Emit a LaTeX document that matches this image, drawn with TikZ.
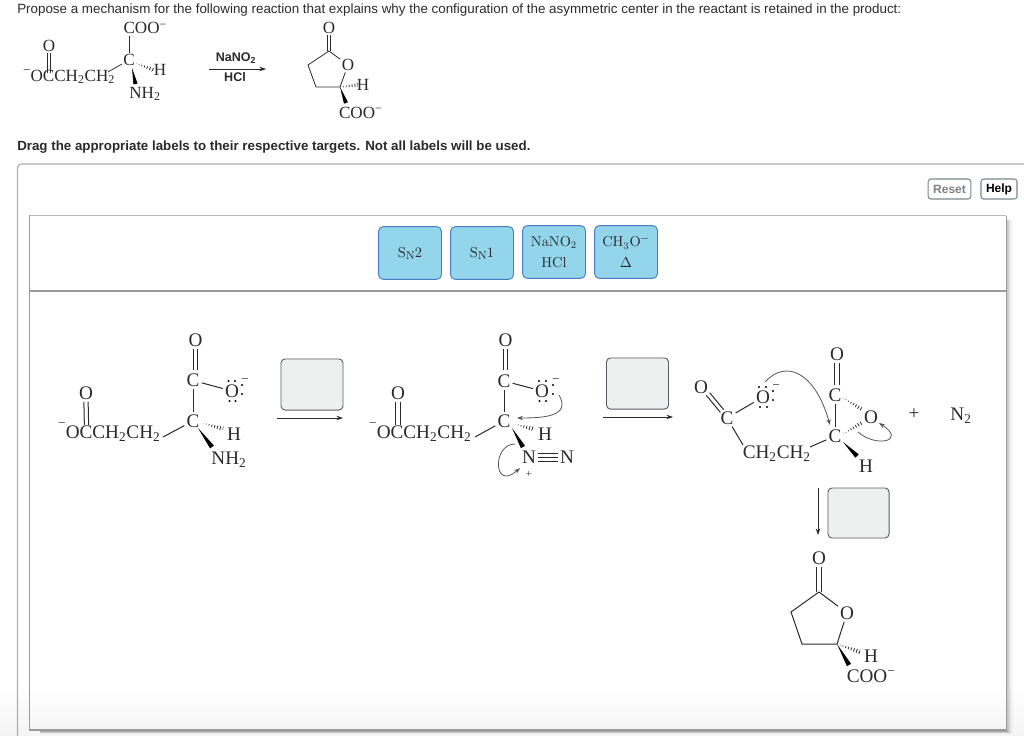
\documentclass[tikz,border=0pt]{standalone}
\usepackage{fontspec}
\setmainfont{Liberation Serif}
\newfontfamily\uifont{Liberation Sans}
\newfontfamily\lmfont{Latin Modern Roman}
\usetikzlibrary{arrows.meta,calc}
\definecolor{ink}{HTML}{2A2A2A}
\definecolor{panel}{HTML}{9A9A9A}
\definecolor{boxfill}{HTML}{EEF0F0}
\definecolor{boxline}{HTML}{555A66}
\definecolor{labelfill}{HTML}{93D5EA}
\definecolor{labelline}{HTML}{4A7CC4}
\definecolor{curly}{HTML}{555555}
\definecolor{btnline}{HTML}{7A8A90}
\tikzset{
 atom/.style={inner sep=1.5pt,font=\fontsize{14.4}{15}\selectfont,text=ink},
 smallatom/.style={inner sep=1pt,font=\fontsize{12.8}{13}\selectfont,text=ink},
 signm/.style={inner sep=0pt,font=\fontsize{10}{10}\selectfont,text=ink},
 signp/.style={inner sep=0pt,font=\fontsize{8}{8}\selectfont,text=ink},
 bond/.style={draw=ink,line width=0.75pt},
 sbond/.style={draw=ink,line width=0.6pt},
 hash/.style={draw=ink,line width=5pt,dash pattern=on 0.6pt off 1.6pt},
 rxn/.style={draw=ink,line width=0.6pt,-{Stealth[length=5pt,width=3.4pt]}},
 curlyarrow/.style={draw=curly,line width=0.6pt,-{Stealth[length=4.5pt,width=3.2pt]}},
 slotbox/.style={draw=boxline,fill=boxfill,rounded corners=3pt,line width=0.7pt},
 labelbox/.style={draw=labelline,fill=labelfill,rounded corners=3.5pt,line width=0.7pt,inner sep=0pt,minimum width=47.2pt,minimum height=39.5pt,font=\lmfont\fontsize{10.8}{15.2}\selectfont,text=ink,align=center},
 ui/.style={inner sep=0pt,anchor=base west,font=\uifont\fontsize{10.04}{12}\selectfont,text=ink},
 reag/.style={inner sep=0pt,font=\uifont\bfseries\fontsize{9.4}{11}\selectfont,text=ink},
 btn/.style={draw=btnline,fill=white,rounded corners=2pt,line width=0.8pt,inner sep=0pt,minimum height=15pt,font=\uifont\bfseries\fontsize{9}{11}\selectfont},
}
\newcommand{\chsub}[1]{\textsubscript{#1}}
\newcommand{\lpair}[4]{\fill[black] (#1,#2) circle (0.85pt) (#3,#4) circle (0.85pt);}
\newcommand{\hashb}[3][1.8pt]{\begin{scope}\clip (#2) -- ($(#3)!#1!90:(#2)$) -- ($(#3)!#1!-90:(#2)$) -- cycle;\draw[hash] (#2) -- (#3);\end{scope}}
\newcommand{\wedgeb}[3][1.8pt]{\fill[black] (#2) -- ($(#3)!#1!90:(#2)$) -- ($(#3)!#1!-90:(#2)$) -- cycle;}
\newcommand{\dblbond}[3][1.6pt]{\draw[bond] ($(#2)!#1!90:(#3)$) -- ($(#3)!#1!-90:(#2)$); \draw[bond] ($(#2)!#1!-90:(#3)$) -- ($(#3)!#1!90:(#2)$);}
\newcommand{\sdblbond}[3][1.4pt]{\draw[sbond] ($(#2)!#1!90:(#3)$) -- ($(#3)!#1!-90:(#2)$); \draw[sbond] ($(#2)!#1!-90:(#3)$) -- ($(#3)!#1!90:(#2)$);}
\begin{document}
\begin{tikzpicture}[x=0.75pt,y=-0.75pt]
\useasboundingbox (0,0) rectangle (1024,735);
\shade[top color=white,bottom color=black!4] (0,685) rectangle (1024,735);
% --- text
\node[ui] (title) at (17,14) {Propose a mechanism for the following reaction that explains why the configuration of the asymmetric center in the reactant is retained in the product:};
\node[ui,font=\uifont\bfseries\fontsize{10}{12}\selectfont] (drag) at (17,150) {Drag the appropriate labels to their respective targets. Not all labels will be used.};
% --- panel frames
\draw[draw=panel!80,line width=0.9pt,rounded corners=3pt] (1030,164) -- (17.5,164) -- (17.5,745);
\foreach \o/\w in {1/0.12,2/0.1,3/0.08,4/0.06,5/0.04}
  \draw[draw=black,opacity=\w,line width=1.5pt] (1006+\o*1.1,220) -- (1006+\o*1.1,730+\o*0.6) -- (40,730+\o*0.6);
\draw[draw=panel!70,line width=0.8pt] (29.5,215.5) -- (1006,215.5);
\draw[draw=panel,line width=1.2pt] (29.5,215) -- (29.5,730) -- (1006.5,730) -- (1006.5,215.5);
\draw[draw=panel,line width=1pt] (29.5,291) -- (1006,291);
\node[btn,text=gray,minimum width=32pt] (reset) at (949.5,189) {Reset};
\node[btn,text=black,minimum width=27pt] (help) at (999,189) {Help};
% --- label tiles
\node[labelbox] (l1) at (410,253) {S\raisebox{-0.3ex}{\fontsize{8.5}{9}\selectfont N}2};
\node[labelbox] (l2) at (482,253) {S\raisebox{-0.3ex}{\fontsize{8.5}{9}\selectfont N}1};
\node[labelbox] (l3) at (554,252) {NaNO\chsub{2}\\HCl};
\node[labelbox] (l4) at (626,252) {CH\chsub{3}O\textsuperscript{−}\\$\Delta$};
% --- slots
\node[slotbox,inner sep=0pt,minimum width=46.5pt,minimum height=38.3pt] (s1) at (312,384.5) {};
\node[slotbox,inner sep=0pt,minimum width=46.5pt,minimum height=38.3pt] (s2) at (637.5,383.5) {};
\node[slotbox,inner sep=0pt,minimum width=45.8pt,minimum height=37.5pt] (s3) at (858.5,513) {};
% --- reaction arrows
\coordinate (a1s) at (277,418); \coordinate (a1e) at (343,418);
\draw[rxn] (a1s) -- (a1e);
\coordinate (a2s) at (603,417); \coordinate (a2e) at (673,417);
\draw[rxn] (a2s) -- (a2e);
\coordinate (a3s) at (818,488); \coordinate (a3e) at (818,535);
\draw[rxn] (a3s) -- (a3e);
\coordinate (a0s) at (209,69); \coordinate (a0e) at (266,69);
\draw[rxn,line width=0.5pt] (a0s) -- (a0e);
% --- header reactant
\node[smallatom] (hO) at (49,46) {O};
\node[signm] (hm) at (27,72) {−};
\node[smallatom,anchor=base west] (hOC) at (29,81.5) {OCCH\chsub{2}CH\chsub{2}};
\coordinate (hOCc) at (49,73);
\sdblbond{hO.south}{hOCc}
\node[smallatom,anchor=base west] (hCOO) at (122,34) {COO\textsuperscript{−}};
\coordinate (hCOOb) at (129,36);
\node[smallatom] (hC) at (129,60) {C};
\node[smallatom] (hH) at (160,70) {H};
\node[smallatom] (hN) at (145,94) {NH\chsub{2}};
\coordinate (hCH) at (108,72);
\coordinate (hw1) at (132,68); \coordinate (hw2) at (135.5,84);
\coordinate (hh1) at (136,63); \coordinate (hh2) at (153,70);
\draw[sbond] (hCOOb) -- (hC);
\draw[sbond] (hCH) -- (hC);
\hashb[1.6pt]{hh1}{hh2}
\wedgeb[1.6pt]{hw1}{hw2}
\node[reag] (hna) at (236,58) {NaNO\chsub{2}};
\node[reag] (hhcl) at (235,77) {HCl};
% header product
\node[smallatom] (pO1) at (329,28) {O};
\coordinate (pC1) at (329,51);
\node[smallatom] (pO2) at (348,65) {O};
\coordinate (pC2) at (308,65);
\coordinate (pC3) at (316,87);
\coordinate (pC4) at (340,87);
\sdblbond{pO1.south}{pC1}
\draw[sbond] (pC1) -- (pO2);
\draw[sbond] (pO2) -- (pC4);
\draw[sbond] (pC4) -- (pC3) -- (pC2) -- (pC1);
\node[smallatom] (pH) at (363,85) {H};
\node[smallatom,anchor=base west] (pCOO) at (337.5,118) {COO\textsuperscript{−}};
\coordinate (phe) at (358,85);
\coordinate (pwe) at (346,103);
\hashb[1.6pt]{pC4}{phe}
\wedgeb[1.6pt]{pC4}{pwe}
% --- structure 1
\node[atom] (a1O) at (195.5,340) {O};
\node[atom] (a1C) at (193,380.5) {C};
\node[atom] (a1Om) at (232,391) {O};
\node[atom] (a1Cc) at (193,421) {C};
\node[atom] (a1H) at (234,434) {H};
\node[atom] (a1N) at (229,460) {NH\chsub{2}};
\node[atom] (a1Ol) at (86,393) {O};
\node[signm] (a1mn) at (62,425) {−};
\node[atom,anchor=base west] (a1OC) at (63.5,438.5) {OCCH\chsub{2}CH\chsub{2}};
\coordinate (a1OCc) at (86.5,425);
\coordinate (a1CH) at (163,437);
\coordinate (a1wh) at (223,429);
\coordinate (a1wn) at (212,447);
\coordinate (a1ws) at (198,428);
\coordinate (a1hs) at (203,423);
\coordinate (a1Oc) at (195.5,370);
\dblbond{a1O.south}{a1Oc}
\dblbond{a1Ol.south}{a1OCc}
\draw[bond] (a1C) -- (a1Om);
\draw[bond] (a1C) -- (a1Cc);
\draw[bond] (a1CH) -- (a1Cc);
\hashb{a1hs}{a1wh}
\wedgeb{a1ws}{a1wn}
\lpair{228.5}{381}{235}{381}
\lpair{229.5}{401}{235.5}{401}
\lpair{242}{385}{242}{394}
\node[signm] (a1mo) at (245,381) {−};
% --- structure 2
\node[atom] (b1O) at (505.5,340) {O};
\node[atom] (b1C) at (504,381) {C};
\node[atom] (b1Om) at (542,391) {O};
\node[atom] (b1Cc) at (504,421) {C};
\node[atom] (b1H) at (545,434) {H};
\node[atom] (b1N1) at (529,457.5) {N};
\node[atom] (b1N2) at (567,457.5) {N};
\node[signp] (b1pl) at (529,474.5) {+};
\node[atom] (b1Ol) at (398,393) {O};
\node[signm] (b1mn) at (373,425) {−};
\node[atom,anchor=base west] (b1OC) at (374.5,438.5) {OCCH\chsub{2}CH\chsub{2}};
\coordinate (b1OCc) at (398,425);
\coordinate (b1CH) at (475,437);
\coordinate (b1Oc) at (505.5,370);
\coordinate (b1hs) at (515,424);
\coordinate (b1he) at (533,429);
\coordinate (b1ws) at (512,428);
\coordinate (b1we) at (523,447);
\dblbond{b1O.south}{b1Oc}
\dblbond{b1Ol.south}{b1OCc}
\draw[bond] (b1C) -- (b1Om);
\draw[bond] (b1C) -- (b1Cc);
\draw[bond] (b1CH) -- (b1Cc);
\hashb{b1hs}{b1he}
\wedgeb{b1ws}{b1we}
\dblbond[3pt]{b1N1.east}{b1N2.west}
\draw[draw=ink,line width=0.8pt] (b1N1) -- (b1N2);
\lpair{539}{381}{546}{381}
\lpair{539.5}{401}{546}{401}
\lpair{553}{385}{553}{394}
\node[signm] (b1mo) at (556,381) {−};
\coordinate (bc1s) at (559,395); \coordinate (bc1e) at (517,418);
\draw[curlyarrow] (bc1s) .. controls (571,416) and (545,418) .. (bc1e);
\coordinate (bc2s) at (515,444); \coordinate (bc2e) at (520,468);
\draw[curlyarrow] (bc2s) .. controls (492,444) and (493,492) .. (bc2e);
% --- structure 3
\node[atom] (c1O) at (837,354) {O};
\node[atom] (c1C) at (835,395) {C};
\node[atom] (c1Cc) at (835,436) {C};
\node[atom] (c1Or) at (871,417) {O};
\node[atom] (c1H) at (866,466) {H};
\node[atom,anchor=base west] (c1CH) at (740.5,458.5) {CH\chsub{2}CH\chsub{2}};
\node[atom] (c1Cl) at (727,418) {C};
\node[atom] (c1Ot) at (701,387) {O};
\node[atom] (c1Om) at (763,397) {O};
\node[atom] (c1plus) at (914,414) {+};
\node[atom] (c1N2) at (961,416) {N\chsub{2}};
\coordinate (c1Oc) at (837,385);
\coordinate (c1r1) at (810,447);
\coordinate (c1l1) at (743,445);
\coordinate (c1Otb) at (708,394);
\coordinate (c1Clt) at (722,411);
\coordinate (c1h1s) at (843,398); \coordinate (c1h1e) at (863,410);
\coordinate (c1h2s) at (843,434); \coordinate (c1h2e) at (863,422);
\coordinate (c1ws) at (843,442); \coordinate (c1we) at (857,456);
\dblbond{c1O.south}{c1Oc}
\draw[bond] (c1C) -- (c1Cc);
\draw[bond] (c1r1) -- (c1Cc);
\draw[bond] (c1l1) -- (c1Cl);
\dblbond{c1Otb}{c1Clt}
\draw[bond] (c1Cl) -- (c1Om);
\hashb[1.6pt]{c1h1s}{c1h1e}
\hashb[1.6pt]{c1h2s}{c1h2e}
\wedgeb{c1ws}{c1we}
\lpair{759}{387}{766}{387}
\lpair{760}{407}{767}{407}
\lpair{773}{391}{773}{400}
\node[signm] (c1mo) at (776,387) {−};
\coordinate (cc1s) at (765,382); \coordinate (cc1e) at (830,425);
\draw[curlyarrow] (cc1s) .. controls (786,359) and (815,372) .. (cc1e);
\coordinate (cc2s) at (858,432); \coordinate (cc2e) at (879,423);
\draw[curlyarrow] (cc2s) .. controls (876,448) and (907,441) .. (cc2e);
% --- structure 4
\node[atom] (d1O) at (819,558) {O};
\coordinate (d1C1) at (819,592);
\node[atom] (d1Or) at (847,613) {O};
\coordinate (d1C4) at (837,644);
\coordinate (d1C3) at (802,644);
\coordinate (d1C2) at (791,612);
\node[atom] (d1H) at (871,656) {H};
\node[atom,anchor=base west] (d1COO) at (844.5,682) {COO\textsuperscript{−}};
\coordinate (d1he) at (860,652);
\coordinate (d1we) at (849,665);
\dblbond{d1O.south}{d1C1}
\draw[bond] (d1C1) -- (d1Or);
\draw[bond] (d1Or) -- (d1C4);
\draw[bond] (d1C4) -- (d1C3) -- (d1C2) -- (d1C1);
\hashb{d1C4}{d1he}
\wedgeb{d1C4}{d1we}
\end{tikzpicture}
\end{document}
